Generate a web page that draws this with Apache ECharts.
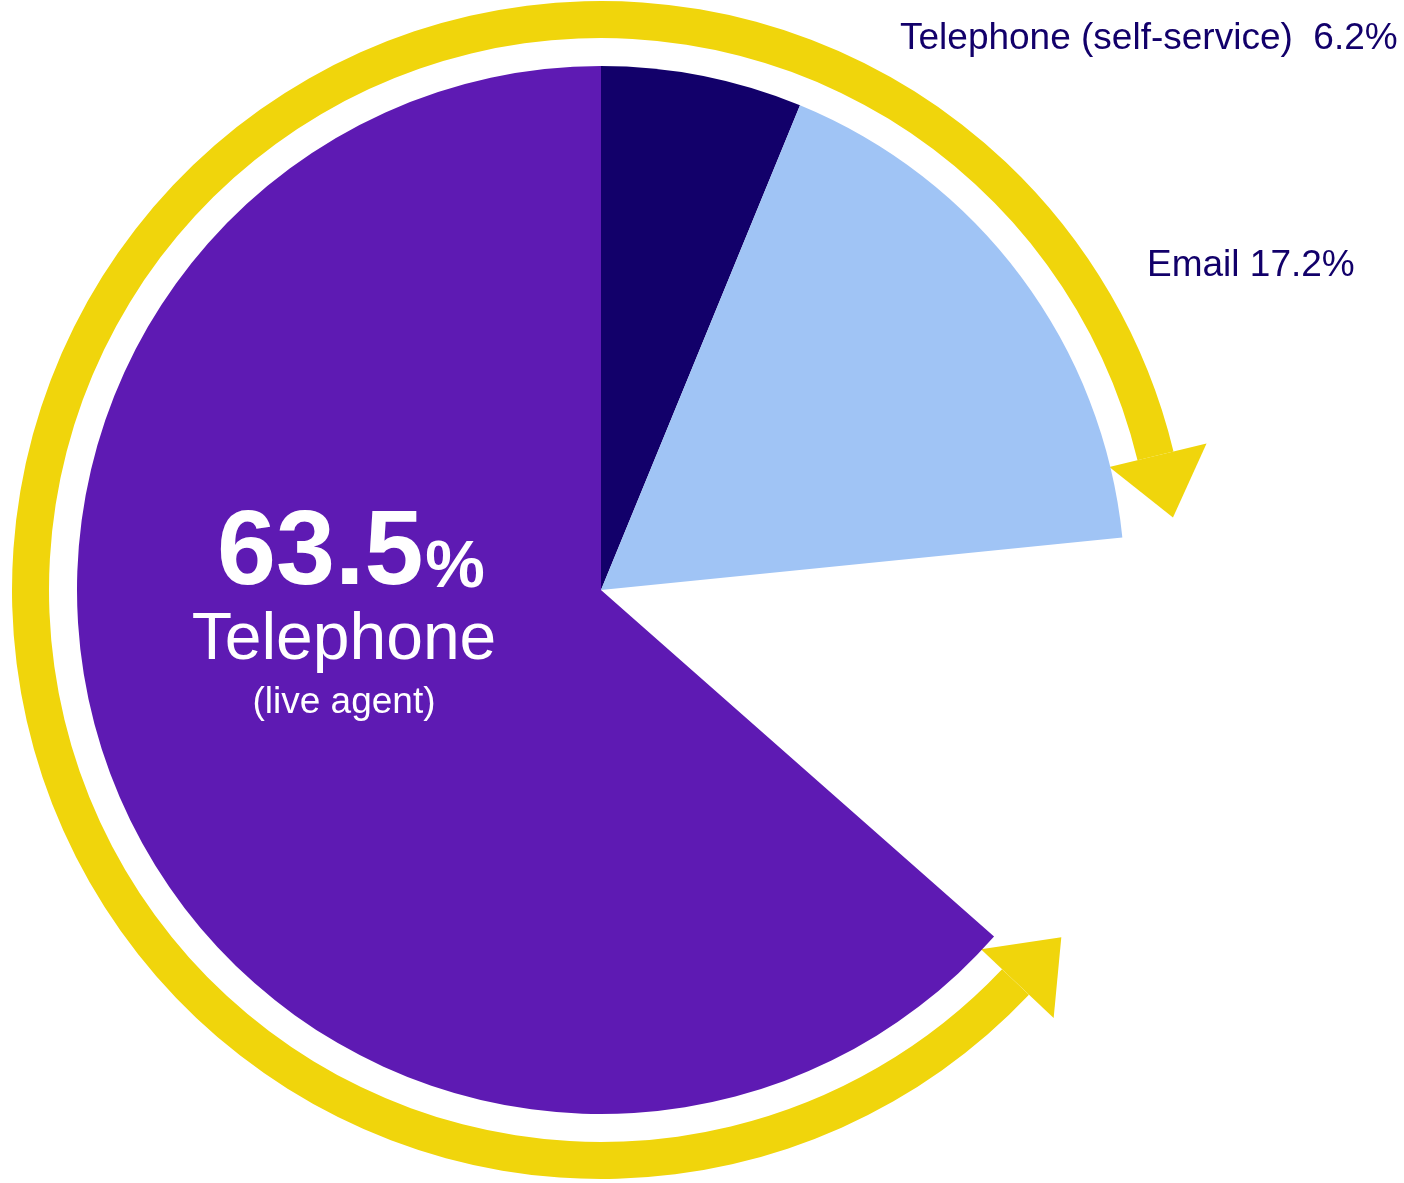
<!DOCTYPE html>
<html>
<head>
<meta charset="utf-8">
<script src="https://cdn.jsdelivr.net/npm/echarts@6/dist/echarts.min.js"></script>
<style>
html,body{margin:0;padding:0;background:#fff;}
#chart{width:1404px;height:1183px;}
</style>
</head>
<body>
<div id="chart"></div>
<script>
// ---- data ----
const categories = ['Telephone (self-service)', 'Email', 'Other', 'Telephone'];
const values = [6.2, 17.2, 13.1, 63.5];
const subLabel = '(live agent)';
// decorative arrow ring: clockwise angles from 12 o'clock (degrees)
const arrowEndAngle = 76.4;    // head near Email
const arrowStartAngle = 133.4; // head near Telephone

// ---- style ----
const FONT = '"Liberation Sans", Arial, Helvetica, sans-serif';
const colors = ['#12006a', '#a0c4f5', 'transparent', '#5e1ab3'];
const YELLOW = '#f0d50c';
const NAVY = '#12006a';
const CX = 601, CY = 590, R = 524;
const RING_IN = 552, RING_OUT = 589;
const HEAD_R = 573, HEAD_HALF = 50, HEAD_LEN = 64;

const labelPos = {
  0: {x: 900, y: 39, align: 'left'},
  1: {x: 1147, y: 266, align: 'left'},
  3: {x: 344, y: 617, align: 'center'}
};

const data = categories.map((name, i) => {
  const d = {name: name, value: values[i], itemStyle: {color: colors[i]}};
  if (i === 2) {
    d.label = {show: false};
    d.emphasis = {disabled: true};
  } else if (i === 3) {
    d.label = {
      show: true,
      position: 'inside',
      formatter: p => '{big|' + p.value + '}{pct|%}\n{name|' + p.name + '}\n{sub|' + subLabel + '}',
      rich: {
        big: {fontSize: 106, fontWeight: 'bold', color: '#fff', fontFamily: FONT, lineHeight: 100, padding: [0, 0, 0, 14]},
        pct: {fontSize: 67, fontWeight: 'bold', color: '#fff', fontFamily: FONT, lineHeight: 100, padding: [28, 0, 0, 2]},
        name: {fontSize: 66, color: '#fff', fontFamily: FONT, lineHeight: 72},
        sub: {fontSize: 37, color: '#fff', fontFamily: FONT, lineHeight: 52}
      }
    };
  } else {
    d.label = {
      show: true,
      position: 'outside',
      formatter: i === 0 ? '{b}  {c}%' : '{b} {c}%',
      color: NAVY,
      fontSize: 37,
      fontFamily: FONT
    };
  }
  return d;
});

function pt(angleCw, r) {
  const a = angleCw * Math.PI / 180;
  return [CX + r * Math.sin(a), CY - r * Math.cos(a)];
}
function head(baseAngle, dir) {
  const a = baseAngle * Math.PI / 180;
  const b1 = pt(baseAngle, HEAD_R - HEAD_HALF);
  const b2 = pt(baseAngle, HEAD_R + HEAD_HALF);
  const m = pt(baseAngle, HEAD_R);
  const tx = Math.cos(a), ty = Math.sin(a);
  const tip = [m[0] + dir * HEAD_LEN * tx, m[1] + dir * HEAD_LEN * ty];
  return {type: 'polygon', shape: {points: [b1, tip, b2]}, style: {fill: YELLOW}, silent: true};
}

const chart = echarts.init(document.getElementById('chart'), null, {renderer: 'canvas'});
chart.setOption({
  animation: false,
  backgroundColor: '#fff',
  series: [
    {
      type: 'pie',
      center: [CX, CY],
      radius: [RING_IN, RING_OUT],
      startAngle: 90 - arrowEndAngle,
      clockwise: true,
      silent: true,
      label: {show: false},
      labelLine: {show: false},
      data: [
        {value: arrowStartAngle - arrowEndAngle, itemStyle: {color: 'transparent'}},
        {value: 360 - (arrowStartAngle - arrowEndAngle), itemStyle: {color: YELLOW}}
      ]
    },
    {
      type: 'pie',
      center: [CX, CY],
      radius: [0, R],
      startAngle: 90,
      clockwise: true,
      silent: true,
      labelLine: {show: false},
      itemStyle: {borderWidth: 0},
      data: data,
      labelLayout: function (params) {
        const p = labelPos[params.dataIndex];
        if (!p) return {};
        return {x: p.x, y: p.y, align: p.align, verticalAlign: 'middle'};
      }
    }
  ],
  graphic: [head(arrowEndAngle, 1), head(arrowStartAngle, -1)]
});
</script>
</body>
</html>
